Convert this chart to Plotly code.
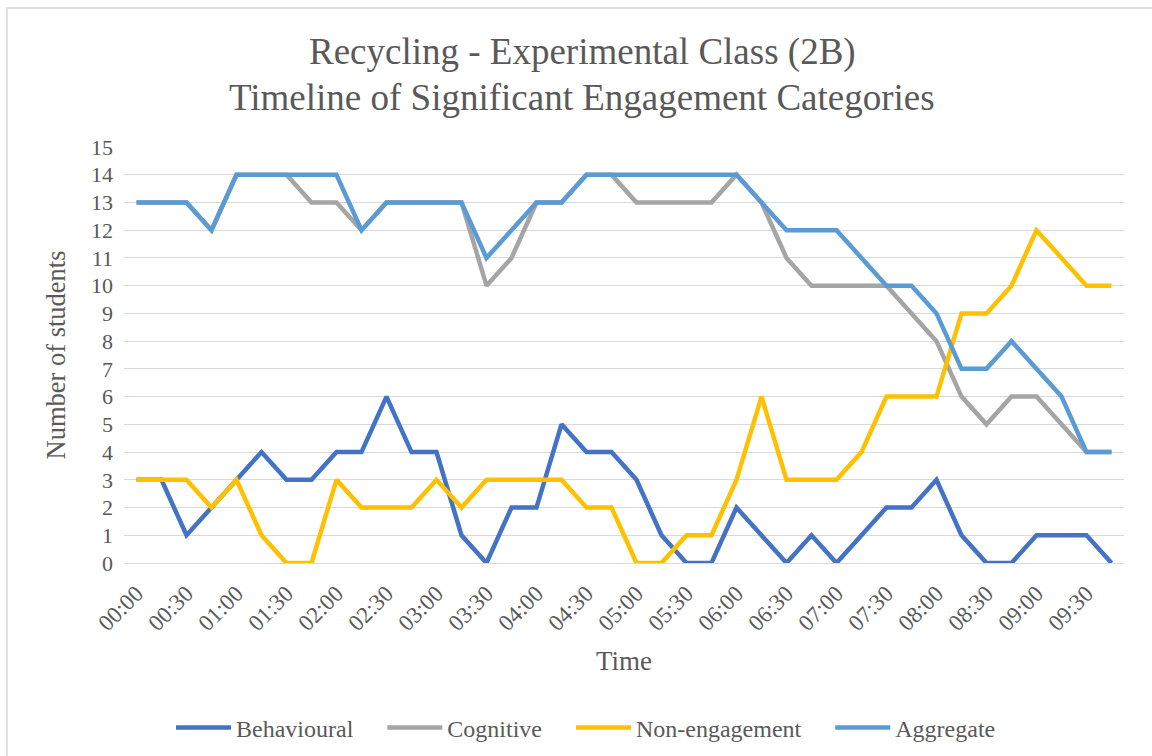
import plotly.graph_objects as go

times = [f"{(s // 60):02d}:{(s % 60):02d}" for s in range(0, 600, 15)]

behavioural = [3, 3, 1, 2, 3, 4, 3, 3, 4, 4, 6, 4, 4, 1, 0, 2, 2, 5, 4, 4,
               3, 1, 0, 0, 2, 1, 0, 1, 0, 1, 2, 2, 3, 1, 0, 0, 1, 1, 1, 0]
cognitive = [13, 13, 13, 12, 14, 14, 14, 13, 13, 12, 13, 13, 13, 13, 10, 11, 13, 13, 14, 14,
             13, 13, 13, 13, 14, 13, 11, 10, 10, 10, 10, 9, 8, 6, 5, 6, 6, 5, 4, 4]
non_engagement = [3, 3, 3, 2, 3, 1, 0, 0, 3, 2, 2, 2, 3, 2, 3, 3, 3, 3, 2, 2,
                  0, 0, 1, 1, 3, 6, 3, 3, 3, 4, 6, 6, 6, 9, 9, 10, 12, 11, 10, 10]
aggregate = [13, 13, 13, 12, 14, 14, 14, 14, 14, 12, 13, 13, 13, 13, 11, 12, 13, 13, 14, 14,
             14, 14, 14, 14, 14, 13, 12, 12, 12, 11, 10, 10, 9, 7, 7, 8, 7, 6, 4, 4]

series_names = ["Behavioural", "Cognitive", "Non-engagement", "Aggregate"]
series_colors = ["#4472C4", "#A5A5A5", "#FFC000", "#5B9BD5"]
series_values = [behavioural, cognitive, non_engagement, aggregate]

title_lines = ["Recycling - Experimental Class (2B)",
               "Timeline of Significant Engagement Categories"]

FONT = "Liberation Serif"
TXT = "#595959"
PAD = "\u00a0" * 4

fig = go.Figure()
for name, color, vals in zip(series_names, series_colors, series_values):
    fig.add_trace(go.Scatter(x=times, y=vals, name=name + PAD, mode="lines",
                             line=dict(color=color, width=4.5)))

W, H = 1152, 756
ml, mr, mt, mb = 124, 28, 147, 193
pw, ph = W - ml - mr, H - mt - mb


def py(px_from_top):
    return (H - mb - px_from_top) / ph


def pxx(px_from_left):
    return (px_from_left - ml) / pw


fig.update_layout(
    width=W, height=H,
    margin=dict(l=ml, r=mr, t=mt, b=mb, autoexpand=False),
    paper_bgcolor="white", plot_bgcolor="white",
    font=dict(family=FONT, color=TXT, size=22),
    xaxis=dict(type="category", range=[-0.5, 39.5], automargin=False,
               tickvals=times[::2], ticktext=times[::2], tickangle=-45,
               showgrid=False, showline=True, linecolor="#D9D9D9", linewidth=1,
               ticks="", ticklabelstandoff=7, tickfont=dict(family=FONT, size=23, color=TXT),
               title=dict(text="Time", font=dict(family=FONT, size=27, color=TXT), standoff=16)),
    yaxis=dict(range=[0, 15], tickmode="linear", tick0=0, dtick=1, automargin=False,
               showgrid=True, gridcolor="#D9D9D9", gridwidth=1,
               zeroline=False, showline=False, ticks="", ticklabelstandoff=10,
               tickfont=dict(family=FONT, size=22, color=TXT),
               title=dict(text="Number of students", font=dict(family=FONT, size=26.5, color=TXT), standoff=17)),
    legend=dict(orientation="h", x=pxx(598), xanchor="center",
                y=28 / H, yref="container", yanchor="middle",
                font=dict(family=FONT, size=24, color=TXT), tracegroupgap=0,
                itemwidth=55, traceorder="normal"),
    showlegend=True,
)

for line_text, top_px in zip(title_lines, [52, 97]):
    fig.add_annotation(text=line_text, xref="paper", yref="paper",
                       x=pxx(582), y=py(top_px), xanchor="center", yanchor="middle",
                       showarrow=False, font=dict(family=FONT, size=37, color=TXT))

# outer chart border
fig.add_shape(type="rect", xref="paper", yref="paper",
              x0=pxx(7), x1=pxx(W + 10), y0=py(H + 10), y1=py(8),
              line=dict(color="#D9D9D9", width=1.5), layer="below")

fig.write_html("out.html", config={"displayModeBar": False},
               post_script="document.body.style.margin='0';")
